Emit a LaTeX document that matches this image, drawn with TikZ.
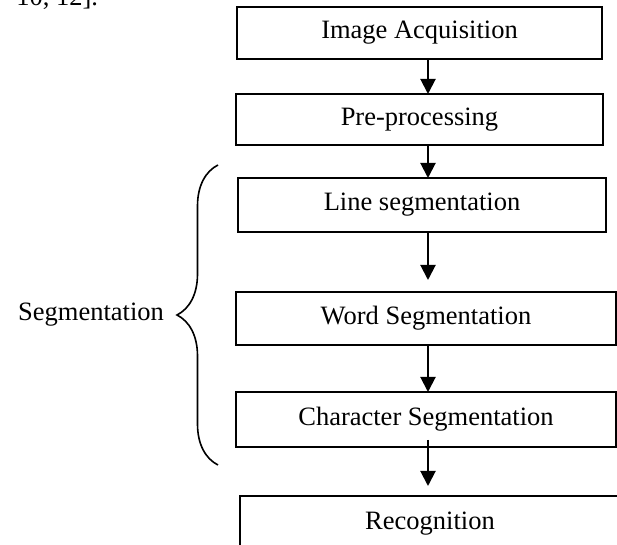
\documentclass[tikz,border=0pt]{standalone}
\usepackage{fontspec}
\setmainfont{Liberation Serif}
\usepackage{tikz}
\usetikzlibrary{arrows.meta,positioning,calc,decorations.pathreplacing}

\begin{document}
\begin{tikzpicture}[
				x=0.5pt, y=-0.5pt,
				stage/.style={draw, line width=1pt, outer sep=0pt, minimum width=190pt, minimum height=27pt, align=center, font=\fontsize{13.25pt}{16pt}\selectfont},
				arr/.style={-{Triangle[length=7.5pt,width=7.5pt]}, line width=1pt},
				brc/.style={decorate, decoration={brace, amplitude=20.5pt}, line width=0.8pt}
				]
				\useasboundingbox (0,0) rectangle (617,545);
				
				\node[anchor=base west, inner sep=0pt, font=\fontsize{13.25pt}{16pt}\selectfont] (cite) at (16,6) {10, 12].};
				
				\node[stage, minimum width=182.5pt, minimum height=26pt] (img) at (419.5,33) {Image Acquisition};
				
				\node[stage, minimum width=183.5pt, minimum height=25.5pt, below=17.5pt of img] (pre) {Pre-processing};
				
				\node[stage, minimum width=184pt, below=16.5pt of pre, xshift=1.25pt] (line) {Line segmentation};
				
				\node[stage, minimum height=26.5pt, below=30pt of line, xshift=2pt] (word) {Word Segmentation};
				
				\node[stage, minimum height=27.5pt, below=23.5pt of word] (char) {Character Segmentation};
				
				\node[stage, minimum height=27.5pt, below=24.5pt of char, xshift=2pt] (recog) {Recognition};
				
				\coordinate (spine) at ($(img.south) + (8.5,0)$);
				\draw[arr] (spine |- img.south) -- (spine |- pre.north);
				\draw[arr] (spine |- pre.south) -- (spine |- line.north);
				\draw[arr, shorten >=6pt] (spine |- line.south) -- (spine |- word.north);
				\draw[arr] (spine |- word.south) -- (spine |- char.north);
				\draw[arr, shorten <=-3.5pt, shorten >=5pt] (spine |- char.south) -- (spine |- recog.north);
				
				\coordinate (btop) at ($(line.north west) + (-20,-13)$);
				\coordinate (bbot) at ($(char.south west) + (-18,18)$);
				\draw[brc] (bbot) -- (btop);
				\coordinate (btip) at ($(bbot)!0.5!(btop) + (-41,0)$);
				\node[left=3pt of btip, font=\fontsize{13.25pt}{16pt}\selectfont] (seg) {Segmentation};
				
\end{tikzpicture}
\end{document}
